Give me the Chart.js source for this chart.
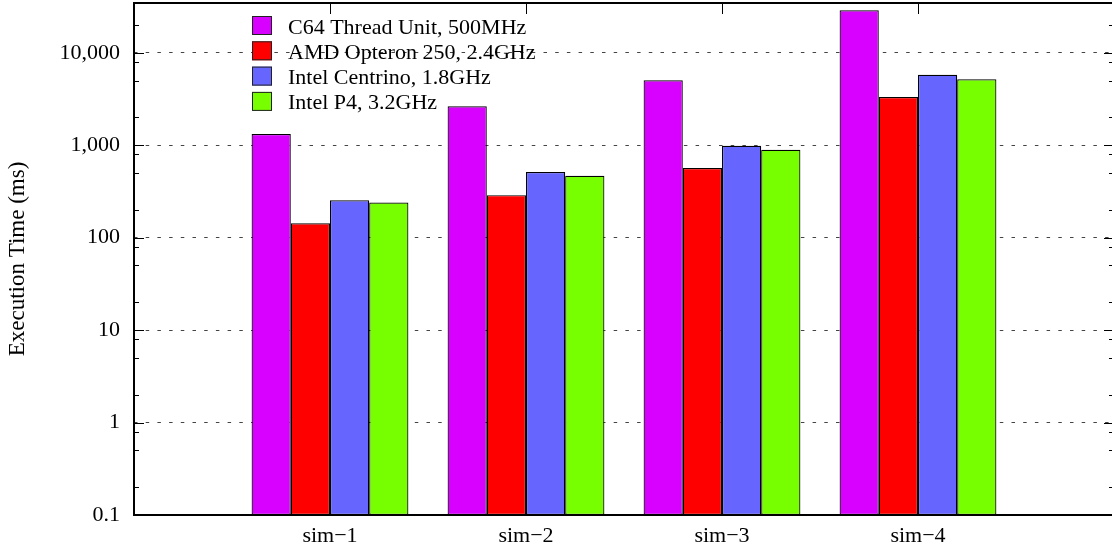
<!DOCTYPE html>
<html>
<head>
<meta charset="utf-8">
<style>
  html, body { margin:0; padding:0; background:#fff; overflow:hidden; }
  #wrap { width:1120px; height:552px; }
</style>
<script src="https://cdn.jsdelivr.net/npm/chart.js@4.4.1/dist/chart.umd.min.js"></script>
</head>
<body>
<div id="wrap"><canvas id="c" width="1120" height="552"></canvas></div>
<script>
// Data
const categories = ['sim\u22121', 'sim\u22122', 'sim\u22123', 'sim\u22124'];
const c64Times = [1320, 2630, 5030, 28800];
const opteronTimes = [143, 288, 565, 3320];
const centrinoTimes = [253, 512, 985, 5780];
const p4Times = [240, 467, 892, 5150];
const yTicks = [0.1, 1, 10, 100, 1000, 10000];
const minorSteps = [2, 5, 8];

const seriesNames = ['C64 Thread Unit, 500MHz', 'AMD Opteron 250, 2.4GHz', 'Intel Centrino, 1.8GHz', 'Intel P4, 3.2GHz'];
const seriesValues = [c64Times, opteronTimes, centrinoTimes, p4Times];
const seriesColors = ['#d800ff', '#ff0000', '#6666ff', '#77ff00'];

const FONT = '"Liberation Serif", "Times New Roman", serif';

const datasets = seriesNames.map((name, i) => ({
  label: name,
  data: seriesValues[i].map((v, k) => ({x: k, y: v})),
  backgroundColor: seriesColors[i],
  borderColor: '#000',
  borderWidth: 1.2,
  borderSkipped: false,
  categoryPercentage: 0.8,
  barPercentage: 1.0
}));

// frame, inner ticks and in-plot legend
const framePlugin = {
  id: 'frame',
  beforeDatasetsDraw(chart) {
    const {ctx, chartArea: a, scales: {x}} = chart;
    ctx.save();
    ctx.strokeStyle = '#000'; ctx.lineWidth = 1;
    categories.forEach((c, i) => {
      const px = Math.round(x.getPixelForValue(i)) + 0.5;
      ctx.beginPath();
      ctx.moveTo(px, a.top); ctx.lineTo(px, a.top + 11);
      ctx.moveTo(px, a.bottom); ctx.lineTo(px, a.bottom - 11);
      ctx.stroke();
    });
    ctx.restore();
  },
  afterDatasetsDraw(chart) {
    const {ctx, chartArea: a, scales: {y}} = chart;
    ctx.save();
    ctx.strokeStyle = '#000'; ctx.lineWidth = 1;
    const tick = (v, len) => {
      const py = Math.round(y.getPixelForValue(v)) + 0.5;
      if (py < a.top || py > a.bottom) return;
      ctx.beginPath();
      ctx.moveTo(a.left, py); ctx.lineTo(a.left + len, py);
      ctx.moveTo(a.right, py); ctx.lineTo(a.right - len, py);
      ctx.stroke();
    };
    yTicks.forEach(t => {
      tick(t, 10);
      minorSteps.forEach(m => tick(t * m, 5));
    });
    ctx.lineWidth = 2;
    ctx.strokeRect(a.left, a.top, a.right - a.left, a.bottom - a.top);

    // legend
    ctx.lineWidth = 1;
    ctx.font = '22px ' + FONT;
    ctx.textAlign = 'left';
    ctx.textBaseline = 'alphabetic';
    chart.data.datasets.forEach((ds, i) => {
      const top = 16 + i * 25.3;
      ctx.fillStyle = ds.backgroundColor;
      ctx.fillRect(252, top, 20, 19);
      ctx.strokeStyle = '#222';
      ctx.strokeRect(252.5, top + 0.5, 19, 18);
      ctx.fillStyle = '#000';
      ctx.fillText(ds.label, 288, top + 17.5);
    });
    ctx.restore();
  }
};

new Chart(document.getElementById('c'), {
  type: 'bar',
  data: { datasets },
  options: {
    responsive: false,
    animation: false,
    layout: { padding: { top: 3, right: 6, left: 0, bottom: 0 } },
    plugins: { legend: { display: false }, tooltip: { enabled: false } },
    scales: {
      x: {
        type: 'linear',
        min: -1, max: 4,
        offset: false,
        afterBuildTicks: s => { s.ticks = categories.map((c, i) => ({value: i})); },
        afterFit: s => { s.height = 37; s.paddingLeft = 0; s.paddingRight = 0; },
        grid: { display: false, drawTicks: false },
        border: { display: false },
        ticks: {
          color: '#000',
          font: { family: FONT, size: 22 },
          padding: 8,
          maxRotation: 0,
          callback: v => categories[v]
        }
      },
      y: {
        type: 'logarithmic',
        min: 0.1, max: 34500,
        afterBuildTicks: s => { s.ticks = yTicks.map(v => ({value: v})); },
        afterFit: s => { s.width = 134; s.paddingTop = 0; s.paddingBottom = 0; },
        grid: { color: '#444', lineWidth: 1, drawTicks: false },
        border: { display: false, dash: [3.5, 8.2] },
        ticks: {
          color: '#000',
          font: { family: FONT, size: 22 },
          padding: 14,
          callback: v => v.toLocaleString('en-US')
        },
        title: {
          display: true,
          text: 'Execution Time (ms)',
          color: '#000',
          font: { family: FONT, size: 23 },
          padding: { top: 4, bottom: 0 }
        }
      }
    }
  },
  plugins: [framePlugin]
});
</script>
</body>
</html>
